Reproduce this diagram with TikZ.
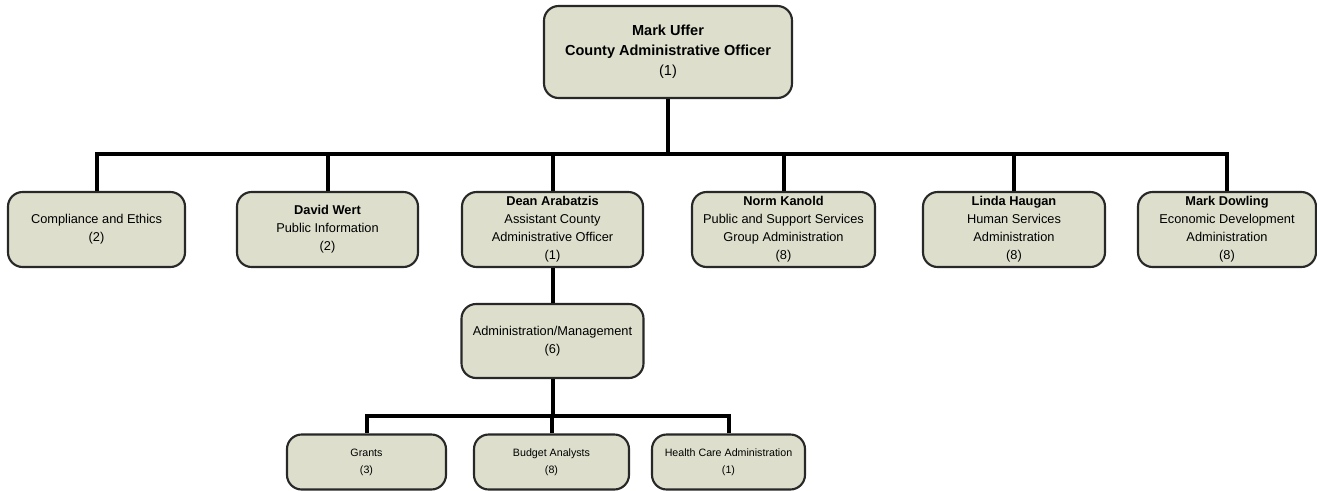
\documentclass[tikz,border=0pt]{standalone}
\usepackage{fontspec}
\setmainfont{Liberation Sans}
\definecolor{boxfill}{RGB}{221,223,204}
\definecolor{boxline}{RGB}{40,40,40}
\begin{document}
\begin{tikzpicture}[x=0.75pt,y=-0.75pt,
  box/.style={draw=boxline,fill=boxfill,line width=1.6pt,rounded corners=11pt,
    align=center,inner sep=0pt,font=\fontsize{9.6pt}{13.5pt}\selectfont},
  topbox/.style={box,font=\fontsize{10.9pt}{15pt}\selectfont\bfseries},
  smallbox/.style={box,font=\fontsize{8pt}{12.75pt}\selectfont},
  conn/.style={draw=black,line width=3pt}]
\useasboundingbox (0,0) rectangle (1317,490);
\clip (0,0) rectangle (1317,490);

\node[topbox,minimum width=186pt,minimum height=69pt] (top) at (668,52)
  {Mark Uffer\\County Administrative Officer\\\mdseries(1)};

\node[box,minimum width=132.75pt,minimum height=56.25pt] (c1) at (96.5,229.5)
  {Compliance and Ethics\\(2)};
\node[box,minimum width=135.75pt,minimum height=56.25pt] (c2) at (327.5,229.5)
  {\textbf{David Wert}\\Public Information\\(2)};
\node[box,minimum width=135.75pt,minimum height=56.25pt] (c3) at (552.5,229.5)
  {\textbf{Dean Arabatzis}\\Assistant County\\Administrative Officer\\(1)};
\node[box,minimum width=137.25pt,minimum height=56.25pt] (c4) at (783.5,229.5)
  {\textbf{Norm Kanold}\\Public and Support Services\\Group Administration\\(8)};
\node[box,minimum width=136.5pt,minimum height=56.25pt] (c5) at (1014,229.5)
  {\textbf{Linda Haugan}\\Human Services\\Administration\\(8)};
\node[box,minimum width=133.5pt,minimum height=56.25pt] (c6) at (1227,229.5)
  {\textbf{Mark Dowling}\\Economic Development\\Administration\\(8)};

\node[box,minimum width=136.5pt,minimum height=55.5pt] (adm) at (552.5,341)
  {Administration/Management\\(6)};

\node[smallbox,minimum width=119.25pt,minimum height=41.25pt] (g1) at (366.5,462)
  {Grants\\(3)};
\node[smallbox,minimum width=116.25pt,minimum height=41.25pt] (g2) at (551.5,462)
  {Budget Analysts\\(8)};
\node[smallbox,minimum width=114.75pt,minimum height=41.25pt] (g3) at (728.5,462)
  {Health Care Administration\\(1)};

\coordinate (hub) at (668,154);
\coordinate (hub2) at (552.5,416);

\begin{scope}[on background layer/.try]
\end{scope}
\draw[conn] (top.south) -- (hub);
\foreach \c in {c1,c2,c3,c4,c5,c6}{\draw[conn] (\c.north) |- (hub);}
\draw[conn] (c3.south) -- (adm.north);
\draw[conn] (adm.south) -- (hub2);
\foreach \c in {g1,g2,g3}{\draw[conn] (\c.north) |- (hub2);}
\end{tikzpicture}
\end{document}
